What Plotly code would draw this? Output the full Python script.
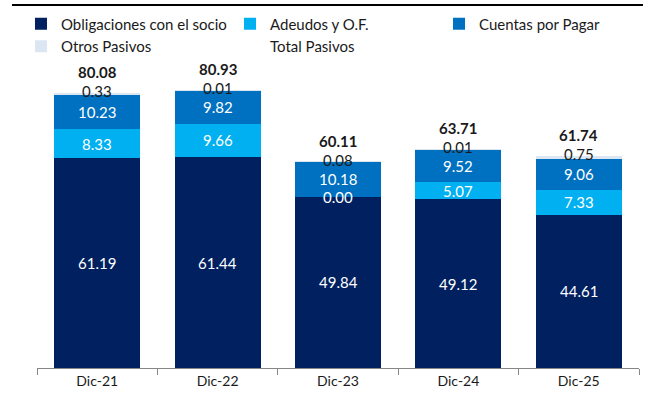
import plotly.graph_objects as go

categories = ["Dic-21", "Dic-22", "Dic-23", "Dic-24", "Dic-25"]
obligaciones = [61.19, 61.44, 49.84, 49.12, 44.61]
adeudos = [8.33, 9.66, 0.00, 5.07, 7.33]
cuentas = [10.23, 9.82, 10.18, 9.52, 9.06]
otros = [0.33, 0.01, 0.08, 0.01, 0.75]
totales = [80.08, 80.93, 60.11, 63.71, 61.74]

names = ["Obligaciones con el socio", "Adeudos y O.F.", "Cuentas por Pagar", "Otros Pasivos"]
series = [obligaciones, adeudos, cuentas, otros]
colors = ["#002060", "#00B0F0", "#0070C0", "#DCE6F2"]
legend_ids = ["legend", "legend2", "legend3", "legend"]

FONT = "Lato"

fig = go.Figure()
for nm, vals, col, lg in zip(names, series, colors, legend_ids):
    fig.add_trace(go.Bar(x=categories, y=vals, name=nm, legend=lg,
                         marker=dict(color=col, line=dict(width=0))))

fig.add_trace(go.Scatter(x=categories, y=totales, name="Total Pasivos", mode="markers",
                         legend="legend2", marker=dict(size=1, color="rgba(0,0,0,0)")))

annotations = []
for i, c in enumerate(categories):
    base = 0.0
    for k, vals in enumerate(series):
        v = vals[i]
        if k < 3:
            annotations.append(dict(x=c, y=base + v / 2, xref="x", yref="y", text=f"{v:.2f}",
                                    showarrow=False, font=dict(family=FONT, size=15, color="white")))
        else:
            annotations.append(dict(x=c, y=base + v, xref="x", yref="y", text=f"{v:.2f}",
                                    showarrow=False, yshift=2,
                                    font=dict(family=FONT, size=15, color="#1a1a1a")))
        base += v
    annotations.append(dict(x=c, y=totales[i], xref="x", yref="y", text=f"<b>{totales[i]:.2f}</b>",
                            showarrow=False, yshift=21,
                            font=dict(family=FONT, size=15, color="#1a1a1a")))

# thin rule at the top of the picture (bottom edge of a cropped title block)
annotations.append(dict(x=0.4826, y=0.99725, xref="paper", yref="paper", text=" ",
                        showarrow=False, xanchor="center", yanchor="middle",
                        width=631, height=2, bgcolor="black", borderpad=0, borderwidth=0,
                        font=dict(size=1)))

legend_common = dict(orientation="v", y=0.99038, xanchor="left", yanchor="top",
                     traceorder="normal", itemwidth=30,
                     font=dict(family=FONT, size=15, color="#1a1a1a"),
                     bgcolor="rgba(255,255,255,0)", tracegroupgap=0)

fig.update_layout(
    width=648, height=401,
    margin=dict(l=37, r=9, t=4, b=33, autoexpand=False),
    paper_bgcolor="white", plot_bgcolor="white",
    barmode="stack", bargap=0.286,
    showlegend=True,
    legend=dict(x=-0.0266, **legend_common),
    legend2=dict(x=0.3206, **legend_common),
    legend3=dict(x=0.6678, **legend_common),
    xaxis=dict(showline=True, linecolor="#868686", linewidth=1, ticks="outside",
               tickson="boundaries", ticklen=6, tickcolor="#868686",
               tickfont=dict(family=FONT, size=14, color="#1a1a1a"), showgrid=False,
               range=[-0.5, 4.5], fixedrange=True, automargin=False),
    yaxis=dict(visible=False, range=[0, 89.7], domain=[0, 0.84615], showgrid=False,
               fixedrange=True),
    annotations=annotations,
    shapes=[dict(type="line", xref="paper", yref="paper", x0=-0.0415, x1=1.0066,
                 y0=0.99725, y1=0.99725, line=dict(color="black", width=2))],
)

fig.write_html("out.html", config={"displayModeBar": False},
               post_script="document.body.style.margin='0px';")
